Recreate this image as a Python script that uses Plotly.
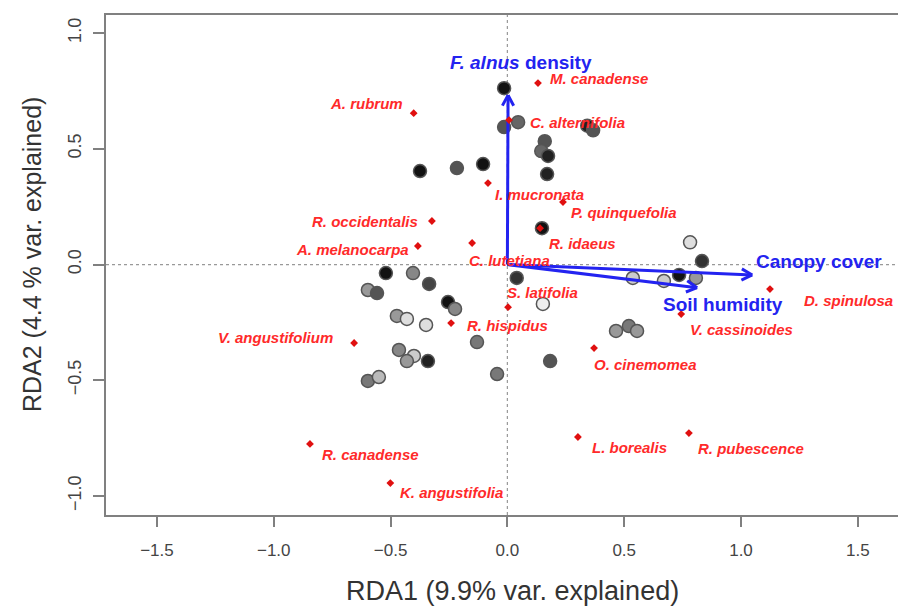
import numpy as np
import plotly.graph_objects as go

# ---------------- data ----------------
site_x = [-0.014, -0.014, 0.046, 0.342, 0.367, 0.160, 0.145, 0.174, 0.170, -0.374,
          -0.216, -0.104, 0.148, 0.782, 0.833, 0.040, 0.537, 0.670, 0.735, 0.807,
          0.152, 0.465, 0.520, 0.555, -0.130, -0.520, -0.404, -0.335, -0.597, -0.558,
          -0.254, -0.224, -0.473, -0.430, -0.348, -0.464, -0.400, -0.430, -0.340, -0.597,
          -0.550, -0.044, 0.183]
site_y = [0.762, 0.594, 0.615, 0.600, 0.580, 0.533, 0.490, 0.469, 0.391, 0.404,
          0.417, 0.434, 0.157, 0.096, 0.015, -0.058, -0.058, -0.071, -0.045, -0.058,
          -0.170, -0.287, -0.266, -0.287, -0.335, -0.037, -0.037, -0.084, -0.110, -0.123,
          -0.162, -0.192, -0.222, -0.235, -0.261, -0.369, -0.395, -0.417, -0.417, -0.503,
          -0.486, -0.473, -0.417]
# grey level of each site (0 = black, 1 = white)
site_grey = [0.07, 0.33, 0.40, 0.13, 0.33, 0.33, 0.40, 0.13, 0.13, 0.07,
             0.33, 0.07, 0.07, 0.87, 0.20, 0.20, 0.80, 0.80, 0.07, 0.60,
             0.93, 0.60, 0.47, 0.60, 0.47, 0.07, 0.53, 0.27, 0.60, 0.33,
             0.07, 0.53, 0.60, 0.87, 0.87, 0.53, 0.80, 0.60, 0.13, 0.47,
             0.73, 0.47, 0.33]

species = ["M. canadense", "A. rubrum", "C. alternifolia", "I. mucronata", "P. quinquefolia",
           "R. occidentalis", "R. idaeus", "A. melanocarpa", "C. lutetiana", "S. latifolia",
           "R. hispidus", "V. angustifolium", "D. spinulosa", "V. cassinoides", "O. cinemomea",
           "L. borealis", "R. pubescence", "R. canadense", "K. angustifolia"]
species_x = [0.131, -0.401, 0.007, -0.083, 0.238, -0.323, 0.140, -0.383, -0.151, 0.003,
             -0.241, -0.656, 1.124, 0.744, 0.371, 0.302, 0.777, -0.845, -0.501]
species_y = [0.784, 0.654, 0.624, 0.352, 0.270, 0.188, 0.157, 0.080, 0.093, -0.184,
             -0.253, -0.339, -0.106, -0.214, -0.361, -0.745, -0.728, -0.775, -0.944]

env_vars = ["<i>F. alnus</i> density", "Canopy cover", "Soil humidity"]
env_x = [0.003, 1.048, 0.812]
env_y = [0.732, -0.045, -0.100]

x_ticks = [-1.5, -1.0, -0.5, 0.0, 0.5, 1.0, 1.5]
y_ticks = [-1.0, -0.5, 0.0, 0.5, 1.0]
x_title = "RDA1 (9.9% var. explained)"
y_title = "RDA2 (4.4 % var. explained)"

# ---------------- layout / style ----------------
W, H = 898, 607
ML, MR, MT, MB = 106, 0, 15, 92
XR = [-1.718, 1.672]
YR = [-1.082, 1.078]
px_x = (W - ML - MR) / (XR[1] - XR[0])
px_y = (H - MT - MB) / (YR[1] - YR[0])

FONT = "Arial, Liberation Sans, sans-serif"
RED = "#ff2a2a"
BLUE = "#2323f0"

# label placement for species: (xanchor, xshift px, yshift px)
species_lab = [("left", 10, 5), ("right", -9, 10), ("left", 19, -2), ("left", 5, -11),
               ("left", 6, -10), ("right", -12, 0), ("left", 7, -15), ("right", -7, -3),
               ("left", -5, -17), ("left", -3, 15), ("left", 14, -2), ("right", -19, 6),
               ("left", 32, -11), ("left", 7, -15), ("left", -2, -16), ("left", 12, -11),
               ("left", 7, -15), ("left", 10, -11), ("left", 8, -9)]
env_lab = [("center", 13, 33), ("left", 2, 13), ("center", 26, -17)]

fig = go.Figure()

# sites
fills = ["rgb({0},{0},{0})".format(int(round(g * 255))) for g in site_grey]
fig.add_trace(go.Scatter(
    x=site_x, y=site_y, mode="markers",
    marker=dict(size=13, color=fills, line=dict(color="#555555", width=1.5)),
    hoverinfo="skip", showlegend=False))

# environmental arrows with open V heads
head_len = 12.0
head_ang = np.deg2rad(28)
for ex, ey in zip(env_x, env_y):
    tx, ty = ex * px_x, ey * px_y  # pixel-space tip (origin at 0)
    ang = np.arctan2(ty, tx)
    xs = [0, ex, None]
    ys = [0, ey, None]
    for s in (1, -1):
        a = ang + np.pi + s * head_ang
        hx = (tx + head_len * np.cos(a)) / px_x
        hy = (ty + head_len * np.sin(a)) / px_y
        xs += [hx, ex, None]
        ys += [hy, ey, None]
    fig.add_trace(go.Scatter(x=xs, y=ys, mode="lines",
                             line=dict(color=BLUE, width=3),
                             hoverinfo="skip", showlegend=False))

# species points
fig.add_trace(go.Scatter(
    x=species_x, y=species_y, mode="markers",
    marker=dict(symbol="diamond", size=6, color="#e01010"),
    hoverinfo="skip", showlegend=False))

annotations = []
for name, sx, sy, (xa, dx, dy) in zip(species, species_x, species_y, species_lab):
    annotations.append(dict(x=sx, y=sy, xref="x", yref="y", text="<b><i>%s</i></b>" % name,
                            showarrow=False, xanchor=xa, yanchor="middle",
                            xshift=dx, yshift=dy,
                            font=dict(family=FONT, size=15, color=RED)))
for name, vx, vy, (xa, dx, dy) in zip(env_vars, env_x, env_y, env_lab):
    annotations.append(dict(x=vx, y=vy, xref="x", yref="y", text="<b>%s</b>" % name,
                            showarrow=False, xanchor=xa, yanchor="middle",
                            xshift=dx, yshift=dy,
                            font=dict(family=FONT, size=19, color=BLUE)))
# axis titles
annotations.append(dict(x=0.02, y=0, xref="x", yref="paper", text=x_title, showarrow=False,
                        xanchor="center", yanchor="middle", yshift=-76,
                        font=dict(family=FONT, size=27, color="#333333")))
annotations.append(dict(x=0, y=0.041, xref="paper", yref="y", text=y_title, showarrow=False,
                        textangle=-90, xanchor="center", yanchor="middle", xshift=-74,
                        font=dict(family=FONT, size=25, color="#333333")))

shapes = [
    dict(type="line", xref="x", yref="paper", x0=0, x1=0, y0=0, y1=1,
         line=dict(color="#999999", width=1.2, dash="dot"), layer="below"),
    dict(type="line", xref="paper", yref="y", x0=0, x1=1, y0=0, y1=0,
         line=dict(color="#999999", width=1.2, dash="dot"), layer="below"),
]

fig.update_layout(
    width=W, height=H,
    margin=dict(l=ML, r=MR, t=MT, b=MB, pad=0, autoexpand=False),
    paper_bgcolor="white", plot_bgcolor="white",
    showlegend=False,
    annotations=annotations, shapes=shapes,
    xaxis=dict(range=XR, tickvals=x_ticks, ticktext=[("%.1f" % v).replace("-", "\u2212") for v in x_ticks],
               showgrid=False, zeroline=False, showline=True, linecolor="#808080", linewidth=2,
               mirror=True, ticks="outside", ticklen=10, tickwidth=2, tickcolor="#808080",
               ticklabelstandoff=9, automargin=False,
               tickfont=dict(family=FONT, size=17, color="#444444")),
    yaxis=dict(range=YR, tickvals=y_ticks, ticktext=[("%.1f" % v).replace("-", "\u2212") for v in y_ticks],
               showgrid=False, zeroline=False, showline=True, linecolor="#808080", linewidth=2,
               ticks="outside", ticklen=11, tickwidth=2, tickcolor="#808080",
               tickangle=-90, ticklabelstandoff=5, automargin=False,
               tickfont=dict(family=FONT, size=18, color="#444444")),
)

fig.write_html("out.html", config={"displayModeBar": False},
               post_script="document.body.style.margin='0';document.body.style.overflow='hidden';")
